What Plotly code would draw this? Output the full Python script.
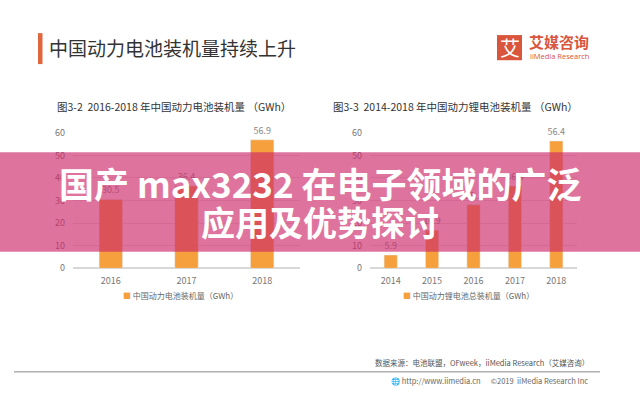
import plotly.graph_objects as go

W, H = 640, 404

left_years = ["2016", "2017", "2018"]
left_values = [30.5, 36.4, 56.9]
right_years = ["2014", "2015", "2016", "2017", "2018"]
right_values = [5.9, 16.9, 28.1, 36.4, 56.4]
y_ticks = [0, 10, 20, 30, 40, 50, 60]

main_title = "中国动力电池装机量持续上升"
left_title = "图3-2  2016-2018 年中国动力电池装机量 （GWh）"
right_title = "图3-3  2014-2018 年中国动力锂电池装机量 （GWh）"
left_legend = "中国动力电池装机量（GWh）"
right_legend = "中国动力锂电池总装机量（GWh）"
overlay_line1 = "国产 max3232 在电子领域的广泛"
overlay_line2 = "应用及优势探讨"
source_text = "数据来源：电池联盟，OFweek，iiMedia Research（艾媒咨询）"
site_text = "🌐 http://www.iimedia.cn      ©2019  iiMedia Research Inc"

BAR = "#F5A03C"
FONT = "Noto Sans CJK SC"

def px(x):
    return x / W

def py(y):
    return 1 - y / H

fig = go.Figure()
fig.add_trace(go.Bar(x=left_years, y=left_values, marker_color=BAR, width=0.31,
                     name=left_legend, text=[f"{v}" for v in left_values],
                     textposition="outside", cliponaxis=False, constraintext="none",
                     textfont=dict(size=9, color="#888888"),
                     xaxis="x", yaxis="y"))
fig.add_trace(go.Bar(x=right_years, y=right_values, marker_color=BAR, width=0.32,
                     name=right_legend, text=[f"{v}" for v in right_values],
                     textposition="outside", cliponaxis=False, constraintext="none",
                     textfont=dict(size=9, color="#888888"),
                     xaxis="x2", yaxis="y2"))

ydom = [py(270), py(130)]
axis_common = dict(showline=False, ticks="", tickfont=dict(size=9, color="#777777", family=FONT))
fig.update_layout(
    width=W, height=H, margin=dict(l=0, r=0, t=0, b=0),
    paper_bgcolor="white", plot_bgcolor="white",
    font=dict(family=FONT),
    xaxis=dict(domain=[px(73), px(300)], **axis_common, showgrid=False, ticklabelstandoff=6),
    yaxis=dict(domain=ydom, range=[0, 60], tickvals=y_ticks, gridcolor="#E2E2E2",
               zeroline=True, zerolinecolor="#D8D8D8", ticklabelstandoff=7, **axis_common),
    xaxis2=dict(domain=[px(370), px(577)], anchor="y2", **axis_common, showgrid=False, ticklabelstandoff=6),
    yaxis2=dict(domain=ydom, range=[0, 60], tickvals=y_ticks, gridcolor="#E2E2E2",
                anchor="x2", zeroline=True, zerolinecolor="#D8D8D8", ticklabelstandoff=7, **axis_common),
    showlegend=False,
)

shapes = [
    dict(type="rect", xref="paper", yref="paper", x0=px(38), x1=px(42.5), y0=py(59), y1=py(27),
         fillcolor="#E0663F", line=dict(width=0)),
    dict(type="rect", xref="paper", yref="paper", x0=px(497), x1=px(522), y0=py(55), y1=py(29),
         fillcolor="#D9553B", line=dict(width=0)),
    dict(type="line", xref="paper", yref="paper", x0=px(14), x1=px(600), y0=py(377), y1=py(377),
         line=dict(color="#888888", width=1)),
    dict(type="rect", xref="paper", yref="paper", x0=0, x1=1, y0=py(253), y1=py(150),
         fillcolor="rgba(205,40,105,0.65)", line=dict(width=0), layer="above"),
]

annotations = [
    dict(text=main_title, x=px(47), y=py(42), xanchor="left", yanchor="middle",
         font=dict(size=19, color="#333333", family=FONT)),
    dict(text="艾", x=px(509.5), y=py(42), xanchor="center", yanchor="middle",
         font=dict(size=20, color="white", family=FONT)),
    dict(text="<b>艾媒咨询</b>", x=px(527), y=py(36), xanchor="left", yanchor="middle",
         font=dict(size=15, color="#D9553B", family=FONT)),
    dict(text="iiMedia Research", x=px(528), y=py(50.5), xanchor="left", yanchor="middle",
         font=dict(size=7.5, color="#D9553B", family="Open Sans")),
    dict(text=left_title, x=px(55), y=py(103), xanchor="left", yanchor="middle",
         font=dict(size=10.5, color="#333333", family=FONT)),
    dict(text=right_title, x=px(331), y=py(103), xanchor="left", yanchor="middle",
         font=dict(size=10.5, color="#333333", family=FONT)),
    dict(text=f"<span style='color:{BAR}'>■</span> {left_legend}", x=px(121), y=py(298),
         xanchor="left", yanchor="middle", font=dict(size=8, color="#666666", family=FONT)),
    dict(text=f"<span style='color:{BAR}'>■</span> {right_legend}", x=px(401), y=py(298),
         xanchor="left", yanchor="middle", font=dict(size=8, color="#666666", family=FONT)),
    dict(text=source_text, x=px(591), y=py(367), xanchor="right", yanchor="middle",
         font=dict(size=7.5, color="#555555", family=FONT)),
    dict(text=site_text, x=px(590), y=py(386), xanchor="right", yanchor="middle",
         font=dict(size=7.5, color="#666666", family=FONT)),
    dict(text=f"<b>{overlay_line1}</b>", x=0.5, y=py(181), xanchor="center", yanchor="middle",
         font=dict(size=35, color="white", family=FONT)),
    dict(text=f"<b>{overlay_line2}</b>", x=0.5, y=py(222), xanchor="center", yanchor="middle",
         font=dict(size=34, color="white", family=FONT)),
]
for a in annotations:
    a.update(xref="paper", yref="paper", showarrow=False)

fig.update_layout(shapes=shapes, annotations=annotations, bargap=0.6)
fig.write_html("out.html", config={"displayModeBar": False},
               post_script="document.body.style.margin='0';document.body.style.overflow='hidden';")
